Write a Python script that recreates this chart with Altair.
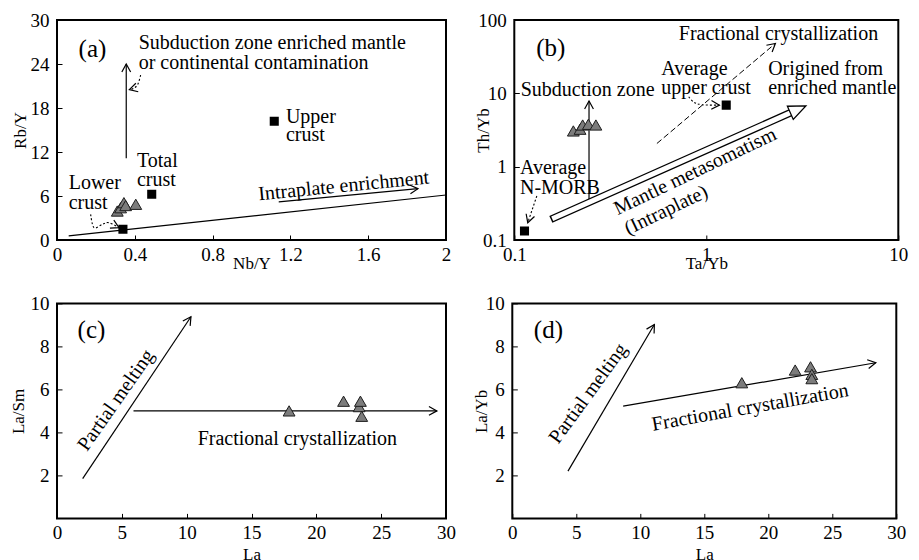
import math
import altair as alt
import pandas as pd

FONT = "Liberation Serif"
H_TOP = 220
H_BOT = 215

# ---------------- panel (a): Rb/Y vs Nb/Y ----------------
a_tri_x = [0.31, 0.327, 0.344, 0.353, 0.405]
a_tri_y = [3.95, 4.4, 5.09, 4.7, 4.87]
a_ref_x = [0.339, 0.487, 1.117]          # lower, total, upper crust
a_ref_y = [1.46, 6.23, 16.2]
a_x_ticks = [0, 0.4, 0.8, 1.2, 1.6, 2]
a_y_ticks = [0, 6, 12, 18, 24, 30]

# ---------------- panel (b): Th/Yb vs Ta/Yb ----------------
b_tri_x = [0.203, 0.22, 0.227, 0.243, 0.266]
b_tri_y = [3.07, 3.24, 3.7, 3.78, 3.7]
b_ref_x = [0.113, 1.27]                  # N-MORB, upper crust
b_ref_y = [0.133, 6.9]
b_x_ticks = [0.1, 1, 10]
b_y_ticks = [0.1, 1, 10, 100]

# ---------------- panel (c): La/Sm vs La ----------------
c_tri_x = [17.9, 22.1, 23.3, 23.4, 23.5]
c_tri_y = [5.0, 5.45, 5.2, 5.45, 4.75]

# ---------------- panel (d): La/Yb vs La ----------------
d_tri_x = [17.93, 22.1, 23.3, 23.4, 23.4]
d_tri_y = [6.31, 6.9, 7.05, 6.7, 6.5]

cd_x_ticks = [0, 5, 10, 15, 20, 25, 30]
cd_y_ticks = [2, 4, 6, 8, 10]

# annotation texts: (text, x, y, fontsize)  left-aligned, baseline
a_texts = [("(a)", 0.111, 24.9, 25),
           ("Subduction zone enriched mantle", 0.42, 26.0, 20),
           ("or continental contamination", 0.42, 23.3, 20),
           ("Upper", 1.177, 16.0, 20), ("crust", 1.177, 13.5, 20),
           ("Total", 0.411, 10.0, 20), ("crust", 0.411, 7.37, 20),
           ("Lower", 0.06, 6.92, 20), ("crust", 0.06, 4.19, 20)]
a_rtexts = [("Intraplate enrichment", 1.474, 7.37, 354.4, 20)]

b_texts = [("(b)", 0.130, 32.6, 25),
           ("Fractional crystallization", 0.719, 53.2, 20),
           ("Average", 0.583, 17.9, 20), ("upper crust", 0.583, 9.75, 20),
           ("Origined from", 2.10, 17.9, 20), ("enriched mantle", 2.10, 9.75, 20),
           ("Subduction zone", 0.108, 9.25, 20),
           ("Average", 0.107, 0.789, 20), ("N-MORB", 0.107, 0.43, 20)]
b_rtexts = [("Mantle metasomatism", 0.875, 0.86, 334.4, 20),
            ("(Intraplate)", 0.618, 0.255, 334.4, 20)]

c_texts = [("(c)", 1.59, 8.4, 25), ("Fractional crystallization", 10.85, 3.41, 20)]
c_rtexts = [("Partial melting", 4.55, 5.5, 305, 20)]

d_texts = [("(d)", 1.68, 8.4, 25)]
d_rtexts = [("Partial melting", 5.93, 5.81, 306, 20),
            ("Fractional crystallization", 18.59, 5.16, 350, 20)]

# annotation lines: (xs, ys, style, head)
a_lines = [([0.06, 2.0], [0.55, 6.14], "solid", False),
           ([0.356, 0.356], [11.15, 24.0], "solid", True),
           ([1.14, 1.856], [5.19, 7.0], "solid", True),
           ([0.430, 0.415, 0.392, 0.372], [22.5, 21.2, 20.65, 20.5], "dotted", True),
           ([0.173, 0.19, 0.233, 0.267, 0.319], [3.5, 1.68, 2.14, 2.36, 1.68], "dotted", True)]
b_lines = [([0.245, 0.245], [0.359, 7.87], "solid", True),
           ([0.553, 2.29], [2.07, 47.9], "dashed", True),
           ([0.81, 0.86, 0.95, 1.17], [9.0, 7.6, 7.0, 6.9], "dotted", True),
           ([0.131, 0.1175], [0.398, 0.172], "dotted", True)]
b_hollow = ((0.155, 0.191), (3.30, 6.73))
c_lines = [([1.98, 10.33], [1.85, 9.38], "solid", True),
           ([5.9, 29.3], [5.0, 5.0], "solid", True)]
d_lines = [([4.35, 11.1], [2.2, 9.02], "solid", True),
           ([8.66, 28.4], [5.22, 7.24], "solid", True)]

CHEVRON = "M-2,-1.1L0,0L-2,1.1"
BIGHEAD = "M0,0L-2,-0.85L-2,0.85Z"


def frac(v, dom, log):
    if log:
        return (math.log10(v) - math.log10(dom[0])) / (math.log10(dom[1]) - math.log10(dom[0]))
    return (v - dom[0]) / (dom[1] - dom[0])


def unfrac(t, dom, log):
    if log:
        return 10 ** (math.log10(dom[0]) + t * (math.log10(dom[1]) - math.log10(dom[0])))
    return dom[0] + t * (dom[1] - dom[0])


def to_px(sc, x, y, w, h):
    return frac(x, sc["xd"], sc["xl"]) * w, (1 - frac(y, sc["yd"], sc["yl"])) * h


def from_px(sc, X, Y, w, h):
    return unfrac(X / w, sc["xd"], sc["xl"]), unfrac(1 - Y / h, sc["yd"], sc["yl"])


def screen_angle(sc, p0, p1, w, h):
    X0, Y0 = to_px(sc, p0[0], p0[1], w, h)
    X1, Y1 = to_px(sc, p1[0], p1[1], w, h)
    return math.degrees(math.atan2(Y1 - Y0, X1 - X0)) % 360


def panel(sc, w, h, xtitle, ytitle, xticks, yticks, tri, refs, lines, texts, rtexts,
          ytitle_x, xtitle_pad, hollow=None):
    xs = alt.Scale(type="log" if sc["xl"] else "linear", domain=sc["xd"], nice=False, zero=False)
    ys = alt.Scale(type="log" if sc["yl"] else "linear", domain=sc["yd"], nice=False, zero=False)
    common = dict(grid=False, domain=False, format="~r", labelFlush=False,
                  tickSize={"expr": "-5"}, tickColor="black", tickWidth=1,
                  labelFont=FONT, labelFontSize=19, labelColor="black",
                  titleFont=FONT, titleFontSize=17, titleFontWeight="normal", titleColor="black")
    X = alt.X("x:Q", scale=xs, axis=alt.Axis(title=xtitle, values=xticks, labelPadding=10,
                                             titlePadding={"expr": str(xtitle_pad)}, **common))
    Y = alt.Y("y:Q", scale=ys, axis=alt.Axis(title=ytitle, values=yticks, labelPadding=13,
                                             titleX=ytitle_x, titleY=h / 2, **common))
    layers = []
    heads = []
    for lx, ly, style, head in lines:
        df = pd.DataFrame({"x": lx, "y": ly, "o": list(range(len(lx)))})
        kw = dict(stroke="black", strokeWidth=1.2, clip=True)
        if style == "dotted":
            kw.update(strokeDash=[2, 2], strokeWidth=1.1, interpolate="cardinal")
        elif style == "dashed":
            kw.update(strokeDash=[6, 3], strokeWidth=1.0)
        layers.append(alt.Chart(df).mark_line(**kw).encode(x=X, y=Y, order="o:Q"))
        if head:
            ang = screen_angle(sc, (lx[-2], ly[-2]), (lx[-1], ly[-1]), w, h)
            heads.append({"x": lx[-1], "y": ly[-1], "ang": ang})
    if hollow is not None:
        (sx, sy), (tx, ty) = hollow
        S = to_px(sc, sx, sy, w, h)
        T = to_px(sc, tx, ty, w, h)
        L = math.hypot(T[0] - S[0], T[1] - S[1])
        ux, uy = (T[0] - S[0]) / L, (T[1] - S[1]) / L
        base = from_px(sc, T[0] - 15 * ux, T[1] - 15 * uy, w, h)
        wstart = from_px(sc, S[0] + 1.5 * ux, S[1] + 1.5 * uy, w, h)
        body_b = pd.DataFrame({"x": [sx, base[0]], "y": [sy, base[1]], "o": [0, 1]})
        body_w = pd.DataFrame({"x": [wstart[0], base[0]], "y": [wstart[1], base[1]], "o": [0, 1]})
        layers.append(alt.Chart(body_b).mark_line(stroke="black", strokeWidth=7.5, strokeCap="butt")
                      .encode(x=X, y=Y, order="o:Q"))
        layers.append(alt.Chart(body_w).mark_line(stroke="white", strokeWidth=5, strokeCap="butt")
                      .encode(x=X, y=Y, order="o:Q"))
        ang = screen_angle(sc, (sx, sy), (tx, ty), w, h)
        hd = pd.DataFrame({"x": [tx], "y": [ty], "ang": [ang]})
        layers.append(alt.Chart(hd).mark_point(shape=BIGHEAD, filled=True, fill="white", stroke="black",
                                               strokeWidth=1.3, size=289, opacity=1)
                      .encode(x=X, y=Y, angle=alt.Angle("ang:Q", scale=None)))
    if heads:
        layers.append(alt.Chart(pd.DataFrame(heads)).mark_point(
            shape=CHEVRON, filled=False, stroke="black", strokeWidth=1.2, size=64, opacity=1)
            .encode(x=X, y=Y, angle=alt.Angle("ang:Q", scale=None)))
    if refs is not None:
        layers.append(alt.Chart(pd.DataFrame({"x": refs[0], "y": refs[1]})).mark_point(
            shape="square", filled=True, fill="black", stroke="black", size=50, opacity=1)
            .encode(x=X, y=Y))
    layers.append(alt.Chart(pd.DataFrame({"x": tri[0], "y": tri[1]})).mark_point(
        shape="triangle-up", filled=True, fill="#7c7c7c", stroke="#1e1e1e", strokeWidth=1,
        size=140, opacity=1).encode(x=X, y=Y))
    tdf = pd.DataFrame(texts, columns=["t", "x", "y", "fs"])
    layers.append(alt.Chart(tdf).mark_text(font=FONT, color="black", align="left",
                                           baseline="alphabetic")
                  .encode(x=X, y=Y, text="t:N", size=alt.Size("fs:Q", scale=None)))
    rdf = pd.DataFrame(rtexts, columns=["t", "x", "y", "ang", "fs"])
    layers.append(alt.Chart(rdf).mark_text(font=FONT, color="black", align="center",
                                           baseline="middle")
                  .encode(x=X, y=Y, text="t:N", size=alt.Size("fs:Q", scale=None),
                          angle=alt.Angle("ang:Q", scale=None)))
    return alt.layer(*layers).properties(width=w, height=h)


sa = {"xd": [0, 2], "yd": [0, 30], "xl": False, "yl": False}
sb = {"xd": [0.1, 10], "yd": [0.1, 100], "xl": True, "yl": True}
sc_ = {"xd": [0, 30], "yd": [0, 10], "xl": False, "yl": False}

pa = panel(sa, 389, H_TOP, "Nb/Y", "Rb/Y", a_x_ticks, a_y_ticks, (a_tri_x, a_tri_y),
           (a_ref_x, a_ref_y), a_lines, a_texts, a_rtexts, -28, -8.7)
pb = panel(sb, 384, H_TOP, "Ta/Yb", "Th/Yb", b_x_ticks, b_y_ticks, (b_tri_x, b_tri_y),
           (b_ref_x, b_ref_y), b_lines, b_texts, b_rtexts, -22.3, -8.7, hollow=b_hollow)
pc = panel(sc_, 389, H_BOT, "La", "La/Sm", cd_x_ticks, cd_y_ticks, (c_tri_x, c_tri_y),
           None, c_lines, c_texts, c_rtexts, -30, 4)
pd_ = panel(sc_, 384, H_BOT, "La", "La/Yb", cd_x_ticks, cd_y_ticks, (d_tri_x, d_tri_y),
            None, d_lines, d_texts, d_rtexts, -22.3, 4)

row1 = alt.hconcat(pa, pb, spacing=20.3)
row2 = alt.hconcat(pc, pd_, spacing=13.3)
chart = alt.vconcat(row1, row2, spacing=20.4).properties(
    padding={"left": 0, "top": 2, "right": 0, "bottom": 0}, background="white"
).configure_view(stroke="black", strokeWidth=2)

chart.save("out.html", embed_options={"renderer": "svg", "actions": False})
